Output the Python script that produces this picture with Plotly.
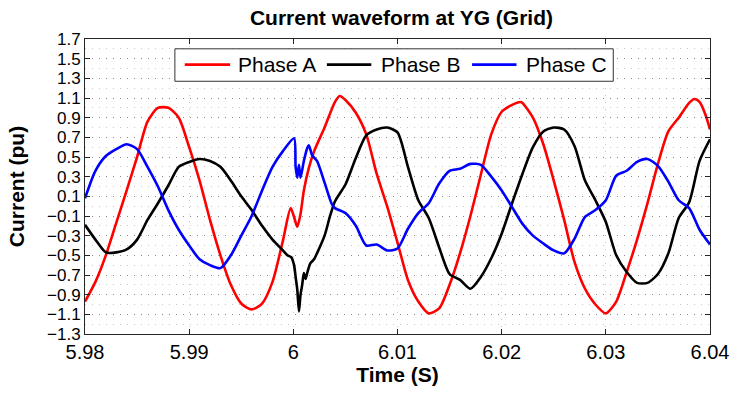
import plotly.graph_objects as go

# ---------------- data ----------------
t_a = [5.980, 5.981, 5.982, 5.983, 5.984, 5.985, 5.986, 5.987, 5.988, 5.989,
       5.990, 5.991, 5.992, 5.993, 5.994, 5.995, 5.996, 5.997, 5.998, 5.999,
       5.99974, 6.00007, 6.00038, 6.00069, 6.00101, 6.00149, 6.0020, 6.0030,
       6.0040, 6.00446, 6.0050, 6.0060, 6.0070, 6.0080, 6.0090,
       6.010, 6.011, 6.012, 6.013, 6.014, 6.015, 6.016, 6.017, 6.018, 6.019,
       6.020, 6.021, 6.0218, 6.022, 6.023, 6.024, 6.025, 6.026, 6.027, 6.028, 6.029,
       6.030, 6.031, 6.032, 6.033, 6.034, 6.035, 6.036, 6.037, 6.038, 6.0385,
       6.039, 6.0396, 6.040]
i_a = [-0.97, -0.77, -0.50, -0.17, 0.16, 0.50, 0.86, 1.00, 1.00, 0.90,
       0.60, 0.26, -0.14, -0.50, -0.80, -0.99, -1.05, -0.99, -0.77, -0.35,
       -0.02, -0.11, -0.21, -0.08, 0.16, 0.39, 0.56, 0.80,
       1.06, 1.12, 1.08, 0.95, 0.73, 0.33, 0.00,
       -0.37, -0.75, -0.97, -1.09, -1.04, -0.80, -0.48, -0.10, 0.32, 0.73,
       0.96, 1.03, 1.06, 1.05, 0.90, 0.63, 0.26, -0.14, -0.57, -0.84, -1.00,
       -1.09, -0.97, -0.67, -0.34, 0.03, 0.43, 0.76, 0.90, 1.05, 1.09,
       1.06, 0.92, 0.78]

t_b = [5.980, 5.981, 5.982, 5.983, 5.984, 5.985, 5.986, 5.987, 5.988, 5.989,
       5.990, 5.991, 5.992, 5.993, 5.994, 5.995, 5.996, 5.997, 5.998, 5.999,
       5.99943, 5.99981, 6.00007, 6.00022, 6.00038, 6.00054, 6.00069, 6.00085,
       6.00101, 6.00117, 6.00133, 6.00164, 6.00199, 6.00227, 6.0030, 6.0035,
       6.0040, 6.0050, 6.0060, 6.0070, 6.0080, 6.0090,
       6.010, 6.011, 6.012, 6.013, 6.014, 6.015, 6.016, 6.017, 6.018, 6.019,
       6.020, 6.021, 6.022, 6.023, 6.024, 6.025, 6.026, 6.027, 6.028, 6.029,
       6.030, 6.031, 6.032, 6.033, 6.034, 6.035, 6.036, 6.037, 6.038, 6.039, 6.040]
i_b = [-0.19, -0.34, -0.47, -0.47, -0.44, -0.34, -0.14, 0.03, 0.21, 0.40,
       0.45, 0.48, 0.46, 0.40, 0.26, 0.10, -0.04, -0.20, -0.34, -0.45,
       -0.50, -0.52, -0.60, -0.72, -0.85, -1.07, -0.90, -0.80,
       -0.68, -0.74, -0.68, -0.58, -0.54, -0.48, -0.30, -0.11,
       0.05, 0.22, 0.49, 0.72, 0.78, 0.80,
       0.75, 0.40, 0.06, -0.12, -0.42, -0.69, -0.75, -0.84, -0.72, -0.53,
       -0.28, 0.03, 0.33, 0.60, 0.76, 0.80, 0.78, 0.61, 0.26, 0.06,
       -0.16, -0.50, -0.67, -0.78, -0.78, -0.69, -0.48, -0.12, 0.04, 0.46, 0.68]

t_c = [5.980, 5.981, 5.982, 5.983, 5.984, 5.985, 5.986, 5.987, 5.988, 5.989,
       5.990, 5.991, 5.992, 5.993, 5.994, 5.995, 5.996, 5.997, 5.998, 5.999,
       6.00007, 6.00022, 6.00038, 6.00054, 6.00069, 6.00101, 6.00133, 6.00149,
       6.0018, 6.00227, 6.0030, 6.0037, 6.0040, 6.0050, 6.0060, 6.0070, 6.0080, 6.0090,
       6.010, 6.011, 6.012, 6.013, 6.014, 6.015, 6.016, 6.017, 6.018, 6.019,
       6.020, 6.021, 6.022, 6.023, 6.024, 6.025, 6.026, 6.027, 6.028, 6.029,
       6.030, 6.031, 6.032, 6.033, 6.034, 6.035, 6.036, 6.037, 6.038, 6.039, 6.040]
i_c = [0.08, 0.36, 0.51, 0.58, 0.63, 0.58, 0.40, 0.20, -0.04, -0.24,
       -0.40, -0.54, -0.60, -0.63, -0.50, -0.30, -0.10, 0.16, 0.40, 0.56,
       0.69, 0.40, 0.29, 0.42, 0.29, 0.46, 0.59, 0.62,
       0.52, 0.46, 0.24, 0.02, -0.02, -0.07, -0.20, -0.40, -0.39, -0.45,
       -0.43, -0.23, -0.07, 0.03, 0.23, 0.36, 0.38, 0.43, 0.42, 0.30,
       0.16, -0.01, -0.18, -0.30, -0.38, -0.45, -0.48, -0.33, -0.11, -0.04,
       0.06, 0.31, 0.36, 0.45, 0.48, 0.41, 0.25, 0.06, -0.02, -0.24, -0.39]

series_names = ["Phase A", "Phase B", "Phase C"]
series_colors = ["#ff0000", "#000000", "#0000ff"]

x_tickvals = [5.98, 5.99, 6.00, 6.01, 6.02, 6.03, 6.04]
x_ticktext = ["5.98", "5.99", "6", "6.01", "6.02", "6.03", "6.04"]
y_tickvals = [-1.3, -1.1, -0.9, -0.7, -0.5, -0.3, -0.1, 0.1, 0.3, 0.5, 0.7, 0.9, 1.1, 1.3, 1.5, 1.7]
y_ticktext = ["\u22121.3", "\u22121.1", "\u22120.9", "\u22120.7", "\u22120.5", "\u22120.3", "\u22120.1",
              "0.1", "0.3", "0.5", "0.7", "0.9", "1.1", "1.3", "1.5", "1.7"]
y_minorvals = [-1.2, -1.0, -0.8, -0.6, -0.4, -0.2, 0.0, 0.2, 0.4, 0.6, 0.8, 1.0, 1.2, 1.4, 1.6]

title_text = "Current waveform at YG (Grid)"
x_title = "Time (S)"
y_title = "Current (pu)"

# ---------------- figure ----------------
FONT = "Liberation Sans, Arial, Helvetica, sans-serif"
AX = "#262626"

fig = go.Figure()
for t, v, name, col in zip([t_a, t_b, t_c], [i_a, i_b, i_c], series_names, series_colors):
    fig.add_trace(go.Scatter(x=t, y=v, mode="lines", name=name,
                             line=dict(color=col, width=2.6, shape="spline", smoothing=0.7),
                             showlegend=False))

fig.update_layout(
    width=741, height=394,
    margin=dict(l=85, r=23, t=39, b=55),
    paper_bgcolor="white", plot_bgcolor="white",
    font=dict(family=FONT, color="black"),
    title=dict(text=title_text, x=0.5418, xanchor="center", xref="container",
               y=1 - 18 / 394, yanchor="middle", yref="container",
               font=dict(size=21, family=FONT, weight="bold", color="black")),
)

fig.update_xaxes(
    range=[5.98, 6.04], tickmode="array", tickvals=x_tickvals, ticktext=x_ticktext,
    tickfont=dict(size=20, family=FONT, color="black"),
    ticks="inside", ticklen=5, tickcolor=AX, tickwidth=1,
    showline=True, linecolor=AX, linewidth=1, mirror="ticks",
    showgrid=True, gridcolor="#c8c8c8", gridwidth=1, griddash="1px,6px",
    zeroline=False,
    title=dict(text=x_title, standoff=4, font=dict(size=21, family=FONT, weight="bold", color="black")),
)

fig.update_yaxes(
    range=[-1.3, 1.7], tickmode="array", tickvals=y_tickvals, ticktext=y_ticktext,
    tickfont=dict(size=17, family=FONT, color="black"),
    ticks="inside", ticklen=5, tickcolor=AX, tickwidth=1,
    showline=True, linecolor=AX, linewidth=1, mirror="ticks",
    showgrid=True, gridcolor="#8a8a8a", gridwidth=1, griddash="1px,6px",
    minor=dict(tickmode="array", tickvals=y_minorvals, showgrid=True,
               gridcolor="#c8c8c8", gridwidth=1, griddash="1px,6px", ticks=""),
    zeroline=False,
    title=dict(text=y_title, standoff=16, font=dict(size=21, family=FONT, weight="bold", color="black")),
)

# ---------------- legend (drawn in plot-area coordinates) ----------------
leg_box = dict(x0=0.1438, x1=0.8452, y0=0.8567, y1=0.9667)
leg_y = 0.9133
leg_lines = [(0.1596, 0.2322), (0.3870, 0.4581), (0.6193, 0.6904)]
leg_text_x = [0.2417, 0.4708, 0.7030]

fig.add_shape(type="rect", xref="paper", yref="paper", layer="above",
              fillcolor="white", line=dict(color="#333333", width=1), **leg_box)
for (x0, x1), tx, name, col in zip(leg_lines, leg_text_x, series_names, series_colors):
    fig.add_shape(type="line", xref="paper", yref="paper", layer="above",
                  x0=x0, x1=x1, y0=leg_y, y1=leg_y, line=dict(color=col, width=2.6))
    fig.add_annotation(x=tx, y=leg_y, xref="paper", yref="paper", text=name,
                       showarrow=False, xanchor="left", yanchor="middle",
                       font=dict(size=21, family=FONT, color="black"))

fig.write_html("out.html")
